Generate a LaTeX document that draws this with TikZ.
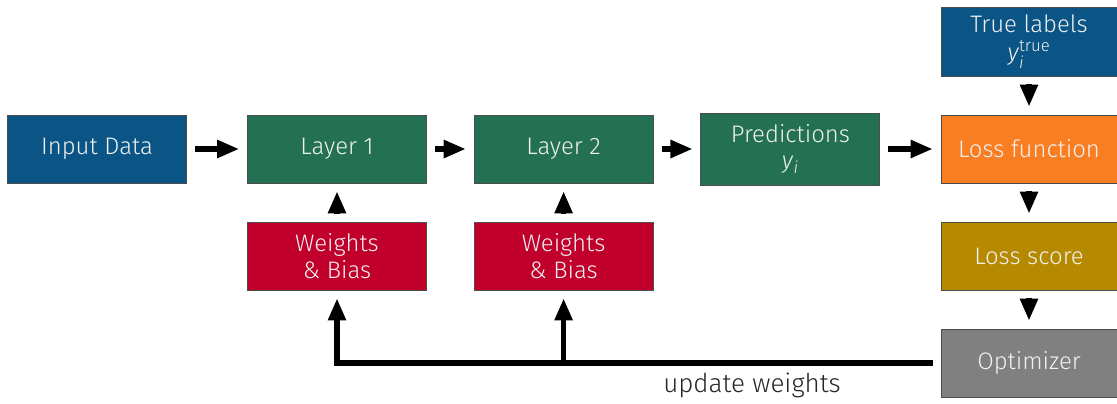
\documentclass[tikz,border=0pt]{standalone}
\usepackage{fontspec}
\usepackage{amsmath}
\setmainfont{Fira Sans Light}
\usetikzlibrary{arrows.meta}
\definecolor{dataBlue}{HTML}{0A5585}
\definecolor{layerGreen}{HTML}{237053}
\definecolor{paramRed}{HTML}{C0002B}
\definecolor{lossOrange}{HTML}{F97E22}
\definecolor{scoreGold}{HTML}{B68A00}
\definecolor{optGray}{HTML}{808080}
\begin{document}
\begin{tikzpicture}[
font=\fontsize{17}{19}\selectfont,
flow/.style={-{Triangle[length=5.5mm,width=4.3mm]},line width=3.6pt,shorten >=2mm,shorten <=2mm},
branch/.style={-{Triangle[length=5.5mm,width=4.3mm]},line width=3.6pt,shorten >=2mm},
box/.style={draw=black!70,line width=0.6pt,text=white!94!black,minimum width=4.475cm,minimum height=1.7cm,align=center,inner sep=2pt}
]
\useasboundingbox (0,0) rectangle (27.925,-10.075);
\node[box,fill=dataBlue] (input) at (2.425,-3.725) {Input Data};
\node[box,fill=layerGreen] (layer1) at (8.425,-3.725) {Layer 1};
\node[box,fill=layerGreen] (layer2) at (14.09,-3.725) {Layer 2};
\node[box,fill=layerGreen,minimum height=1.8cm] (pred) at (19.76,-3.725) {Predictions\\\textit{y}$_{\textit{i}}$};
\node[box,fill=paramRed] (wb1) at (8.425,-6.4) {Weights\\\& Bias};
\node[box,fill=paramRed] (wb2) at (14.09,-6.4) {Weights\\\& Bias};
\node[box,fill=dataBlue,minimum width=4.4cm,minimum height=1.72cm] (truth) at (25.725,-1.04) {True labels\\[1pt]\textit{y}$^{\text{true}}_{\textit{i}}$};
\node[box,fill=lossOrange,minimum width=4.4cm] (loss) at (25.725,-3.725) {Loss function};
\node[box,fill=scoreGold,minimum width=4.4cm] (score) at (25.725,-6.4) {Loss score};
\node[box,fill=optGray,minimum width=4.4cm] (opt) at (25.725,-9.075) {Optimizer};

\foreach \a/\b in {input/layer1,layer1/layer2,layer2/pred,pred/loss,wb1/layer1,wb2/layer2,truth/loss,loss/score,score/opt}
 \draw[flow] (\a) -- (\b);
% feedback path from the optimizer back to both parameter blocks
\coordinate (turn) at (wb1 |- opt);
\coordinate (split) at (wb2 |- opt);
\draw[flow,line join=miter] (opt.west) -- (turn) -- (wb1.south);
\draw[branch] (split) -- (wb2.south);
\node[font=\fontsize{18.5}{20}\selectfont,text=black!85] (upd) at (18.8,-9.64) {update weights};
\end{tikzpicture}
\end{document}
